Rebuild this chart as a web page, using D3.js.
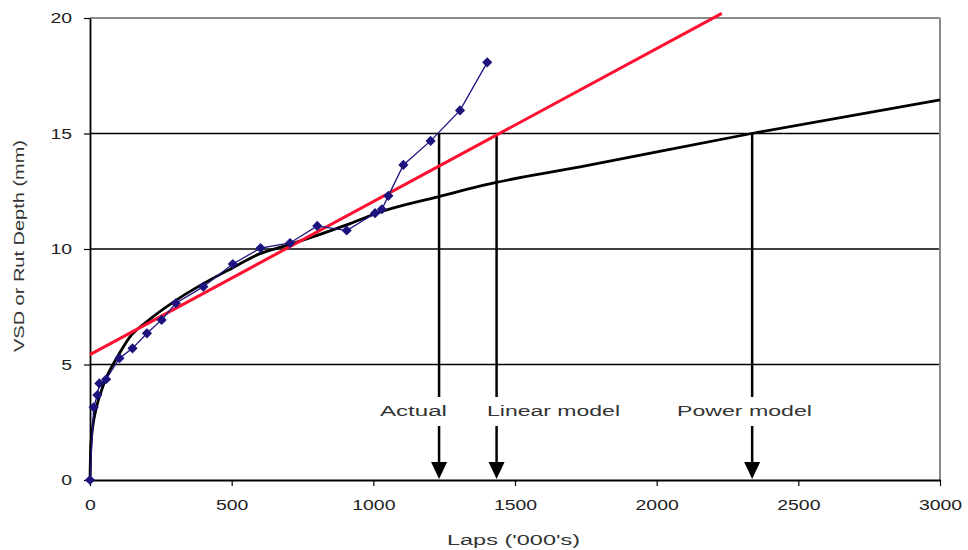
<!DOCTYPE html>
<html><head><meta charset="utf-8">
<script src="https://cdn.jsdelivr.net/npm/d3@7"></script>
<style>body{margin:0;background:#fff;} svg{display:block;font-family:"Liberation Sans",Arial,sans-serif;}</style>
</head><body>
<svg id="chart" width="968" height="550"></svg>
<script>
// Measured series (laps '000s, rut depth mm)
const actualLaps = [0,13,26,33,57,104,150,201,253,303,400,504,602,706,802,906,1006,1030,1053,1106,1202,1306,1402];
const actualDepth = [0,3.15,3.68,4.18,4.36,5.27,5.7,6.35,6.93,7.65,8.37,9.35,10.04,10.26,11.0,10.8,11.55,11.72,12.3,13.64,14.68,16.0,18.08];
// Linear model line
const linearLaps = [0,2230];
const linearDepth = [5.43,20.2];
// Power model curve
const powerLaps = [0,2,5,10,20,50,100,141,200,306,400,506,600,706,918,1024,1228,1430,1730,2335,3000];
const powerDepth = [0,1.25,1.8,2.35,3.0,4.2,5.4,6.2,6.85,7.8,8.5,9.2,9.8,10.2,11.1,11.6,12.26,12.87,13.55,15.0,16.45];
// Annotations
const annoLabels = ["Actual","Linear model","Power model"];
const annoLaps = [1232,1435,2337];
const annoDepth = [15,15,15];
// Axis ticks
const xTicks = [0,500,1000,1500,2000,2500,3000];
const yTicks = [0,5,10,15,20];

const svg = d3.select("#chart");
const x = d3.scaleLinear().domain([0,3000]).range([90,940]);
const y = d3.scaleLinear().domain([0,20]).range([480,18]);

// gridlines
svg.append("g").selectAll("line").data([5,10,15]).join("line")
  .attr("x1",x(0)).attr("x2",x(3000)).attr("y1",d=>y(d)).attr("y2",d=>y(d))
  .attr("stroke","#000").attr("stroke-width",1.3);
// frame top/right gray
svg.append("line").attr("x1",x(0)).attr("x2",x(3000)).attr("y1",y(20)).attr("y2",y(20)).attr("stroke","#8a8a8a").attr("stroke-width",2);
svg.append("line").attr("x1",x(3000)).attr("x2",x(3000)).attr("y1",y(20)).attr("y2",y(0)).attr("stroke","#8a8a8a").attr("stroke-width",2);

// axes
const xAxis = svg.append("g").attr("transform",`translate(0,${y(0)})`)
  .call(d3.axisBottom(x).tickValues(xTicks).tickSize(6).tickSizeOuter(0).tickPadding(13).tickFormat(d3.format("d")));
const yAxis = svg.append("g").attr("transform",`translate(${x(0)},0)`)
  .call(d3.axisLeft(y).tickValues(yTicks).tickSize(6).tickSizeOuter(0).tickPadding(12));
[xAxis,yAxis].forEach(a=>{
  a.select(".domain").attr("stroke","#000").attr("stroke-width",1.8);
  a.selectAll(".tick line").attr("stroke","#000").attr("stroke-width",1.2);
  a.selectAll(".tick text").attr("font-size",15.5).attr("fill","#222")
    .attr("font-family","Liberation Sans, Arial, sans-serif")
    .attr("textLength",d=>String(d).length*10.8).attr("lengthAdjust","spacingAndGlyphs");
});

// annotation lines & arrows
const ag = svg.append("g");
annoLaps.forEach((l,i)=>{
  const px = x(l);
  ag.append("line").attr("x1",px).attr("x2",px).attr("y1",y(annoDepth[i])).attr("y2",397).attr("stroke","#000").attr("stroke-width",2.5);
  ag.append("line").attr("x1",px).attr("x2",px).attr("y1",426).attr("y2",466).attr("stroke","#000").attr("stroke-width",2.5);
  ag.append("path").attr("d",`M${px-8},462 L${px+8},462 L${px},479 Z`).attr("fill","#000");
});
const labelLeft = [380,487,677];
const labelLen = [67,133,135];
ag.selectAll("text").data(annoLabels).join("text")
  .attr("x",(d,i)=>labelLeft[i]).attr("y",416)
  .attr("font-size",15.5).attr("fill","#333")
  .attr("textLength",(d,i)=>labelLen[i]).attr("lengthAdjust","spacingAndGlyphs").text(d=>d);

// power model curve
const powerPts = powerLaps.map((l,i)=>[l,powerDepth[i]]);
svg.append("path").datum(powerPts)
  .attr("d",d3.line().x(d=>x(d[0])).y(d=>y(d[1])).curve(d3.curveMonotoneX))
  .attr("fill","none").attr("stroke","#000").attr("stroke-width",2.8);

// linear model
const linPts = linearLaps.map((l,i)=>[l,linearDepth[i]]);
svg.append("path").datum(linPts)
  .attr("d",d3.line().x(d=>x(d[0])).y(d=>y(d[1])))
  .attr("fill","none").attr("stroke","#ff1030").attr("stroke-width",3);

// actual data
const actPts = actualLaps.map((l,i)=>[l,actualDepth[i]]);
svg.append("path").datum(actPts)
  .attr("d",d3.line().x(d=>x(d[0])).y(d=>y(d[1])))
  .attr("fill","none").attr("stroke","#1c137f").attr("stroke-width",1.3);
svg.append("g").selectAll("path").data(actPts).join("path")
  .attr("d",d3.symbol().type(d3.symbolDiamond2).size(66))
  .attr("transform",d=>`translate(${x(d[0])},${y(d[1])})`)
  .attr("fill","#1c137f");

// axis titles
svg.append("text").attr("x",447).attr("y",545)
  .attr("font-size",15.5).attr("fill","#333")
  .attr("textLength",133).attr("lengthAdjust","spacingAndGlyphs").text("Laps ('000's)");
svg.append("text").attr("transform","translate(24,352) rotate(-90)")
  .attr("font-size",15.5).attr("fill","#333")
  .attr("textLength",212).attr("lengthAdjust","spacingAndGlyphs").text("VSD or Rut Depth (mm)");
</script>
</body></html>
